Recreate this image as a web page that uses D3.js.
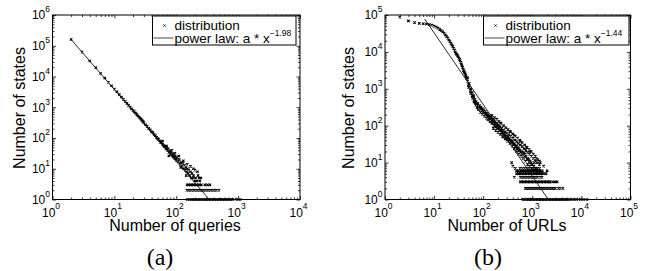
<!DOCTYPE html>
<html>
<head>
<meta charset="utf-8">
<style>
  body { margin: 0; background: #fff; }
  svg { display: block; }
  .tick-label, .axis-title, .legend text {
    font-family: "Liberation Sans", Arial, Helvetica, sans-serif;
    fill: #000;
  }
  .caption { font-family: "Liberation Serif", "Times New Roman", serif; fill: #000; }
  .axis path.domain { display: none; }
  .axis line { stroke: #000; stroke-width: 0.8; }
</style>
<script src="https://cdn.jsdelivr.net/npm/d3@7"></script>
</head>
<body>
<script>
// ---- (a) number of states vs number of queries ----
var queryDist = [
  [2,160000],[3,62000],[4,32000],[5,19500],[6,12500],[7,8900],[8,6500],[9,5000],[10,3900],
  [11,3200],[12,2600],[13,2150],[14,1800],[15,1550],[16,1330],[17,1150],[18,1010],[19,890],
  [20,790],[21,720],[22,650],[23,590],[24,530],[25,480],[26,440],[27,410],[28,375],[29,345],
  [30,315],[32,270],[34,240],[36,205],[38,185],[40,160],[42,150],[44,130],[46,120],[48,105],
  [50,96],[52,90],[54,80],[56,72],[58,70],[60,62],[62,58],[64,52],[66,55],[68,46],[70,44],
  [72,40],[74,45],[76,34],[78,38],[80,32],[82,36],[84,28],[86,31],[88,26],[90,24],[92,30],
  [94,22],[96,26],[98,21],[100,19],[104,23],[108,17],[112,20],[116,14],[120,16],[124,12],
  [128,15],[132,10],[136,13],[140,9],[144,11],[148,8],[152,10],[156,7],[160,9],[165,6],
  [170,8],[175,5],[180,7],[185,5],[190,6],[200,4],[205,5],[215,4],[225,6],[240,4],[250,5],
  [76,26],[85,40],[110,26],[130,18],[150,14],[170,12],[190,10],[220,8],[60,80],[70,55],
  [95,32],[118,11],[145,6],[200,9],[235,5]
];
var queryRow3X = [150,159,169,179,190,201,213,226,240,254,290,320,350];
var queryRow2X = [148,157,166,176,187,198,210,223,236,250,265,281,298,316,335,355,376,399,423,450,490];
var queryRow1X = [150,165,175,186,197,209,221,234,248,263,279,296,313,332,352,373,396,419,445,471,
                  500,530,562,596,631,669,710,760,820,960,1080];
var queryFit = [[2,160000],[342,1]];
var queryExponent = "\u22121.98";

// ---- (b) number of states vs number of URLs ----
var urlDist = [
  [2,87000],[3,69000],[4,62000],[5,59000],[6,58000],[7,57000],[8,55000],[9,53000],[10,50000],
  [11,47000],[12,44000],[13,41000],[14,38000],[15,35000],[16,32000],[17,29000],[18,26000],
  [19,23500],[20,21000],[21,19000],[22,17000],[23,15500],[24,14000],[25,12500],[26,11200],
  [27,10000],[28,9000],[29,8500],[30,8000],[31,7400],[32,6800],[33,6300],[34,5800],[35,5200],
  [36,4700],[37,4200],[38,3800],[39,3400],[40,3100],[41,2900],[42,2700],[43,2500],[44,2300],
  [45,2100],[46,1900],[48,1600],[50,1300],[52,1100],[55,900],[58,750],[60,650],[63,560],
  [66,480],[69,430],[72,390],[76,360],[80,330],[85,300],[90,280],[95,260],[100,245],[106,225],
  [112,210],[119,190],[126,178],[133,165],[140,155],[150,138],[160,126],[170,115],[180,107],
  [190,98],[200,91],[212,84],[225,78],[237,72],[250,66],[265,61],[280,57],[300,52],[320,48],
  [340,44],[360,41],[380,38],[400,35],[425,32],[450,30],[475,28],[500,26],[530,24],[560,22],
  [600,20],[630,19],[670,18],[700,17],[750,15],[800,13],[850,12],[900,11],[950,10],[1000,9],
  [1080,8],[1150,7],[1300,6]
];
var urlSpread = [
  [48,2000],[52,1400],[56,1000],[60,800],[64,640],[68,520],[72,450],[78,400],[84,350],[90,320],
  [96,290],[102,270],[110,245],[118,220],[125,200],[135,185],[145,165],[155,150],[165,138],
  [175,128],[190,115],[205,105],[220,95],[240,85],[260,76],[280,68],[300,63],[330,57],[360,52],
  [400,46],[440,41],[480,37],[520,33],[570,30],[620,27],[680,24],[740,21],[800,19],[870,17],
  [950,15],[1050,13],[1150,11],[1250,10],[1400,9],
  [50,1100],[55,760],[60,560],[65,440],[70,360],[75,310],[80,270],[88,230],[95,205],[105,180],
  [115,160],[125,145],[138,128],[150,115],[165,102],[180,92],[195,83],[215,74],[235,66],[255,58],
  [280,51],[310,45],[340,40],[375,35],[410,31],[450,27],[490,24],[540,21],[590,18],[650,16],
  [720,14],[790,12],[870,10],[950,9],[1050,8],[1200,7],[1350,6],[1500,5],
  [150,190],[170,165],[190,150],[210,130],[230,118],[260,100],[290,88],[320,78],[360,68],[400,60],
  [450,52],[500,46],[560,40],[620,35],[700,30],[780,26],[860,23],[950,20],[1050,17],[1150,15],
  [1300,12],[1450,10],
  [160,85],[180,75],[200,66],[225,58],[250,50],[280,44],[310,38],[350,33],[390,28],[430,24],
  [480,20],[530,17],[590,15],[650,13],[720,11],[800,9],[880,8],[980,7],[1100,6],[1250,5],
  [350,70],[420,55],[560,38],[760,26],[900,20],[1100,10],[1200,13],[1400,11],[1700,8],[2000,6],
  [380,10],[400,8],[430,4],[450,7],[480,6],[520,5]
];
var urlRow7X = [560,630,700,780,860,950,1050,1150,1280,1400];
var urlRow6X = [520,580,640,700,770,840,920,1000,1100,1200,1320,1450,1600];
var urlRow5X = [480,520,560,600,650,700,750,810,870,940,1010,1090,1170,1260,1360,1460,1580,1700,1900];
var urlRow4X = [570,610,653,698,747,800,856,915,980,1048,1120,1200,1285,1450,1580];
var urlRow3X = [570,610,653,698,747,800,856,915,980,1048,1120,1200,1285,1375,1470,1575,1685,
                1800,1930,2065,2210,2300,2600,2900,3200];
var urlRow2X = [720,770,824,882,944,1010,1080,1155,1236,1322,1415,1514,1620,1733,1855,1985,2124,
                2272,2431,2600,2780,2950,3400,3700,4200];
var urlRow1X = [650,700,780,835,893,955,1022,1094,1170,1252,1340,1434,1534,1641,1756,1879,2011,
                2151,2302,2463,2635,2820,3017,3228,3454,3696,3955,4232,4528,4845,5100,5600,6200,
                7000,8000,9500,11000,13000];
var urlFit = [[6.4,78000],[2120,1]];
var urlExponent = "\u22121.44";

function rowPoints(xs, count) {
  return xs.map(function(v) { return [v, count]; });
}

var svg = d3.select("body").append("svg")
    .attr("width", 652)
    .attr("height", 271);

// small matlab-like "x" marker
var cross = "M-1.2,-1.2L1.2,1.2M-1.2,1.2L1.2,-1.2";

function drawPanel(p) {
  var x = d3.scaleLog().domain([1, p.xMax]).range([p.left, p.right]);
  var y = d3.scaleLog().domain([1, p.yMax]).range([p.bottom, p.top]);
  var g = svg.append("g");

  // decade ticks and the 2..9 minor ticks in between
  function majors(max) {
    return d3.range(0, Math.round(Math.log10(max)) + 1).map(function(e) { return Math.pow(10, e); });
  }
  function minors(max) {
    var out = [];
    majors(max).slice(0, -1).forEach(function(d) {
      for (var k = 2; k < 10; k++) out.push(d * k);
    });
    return out;
  }

  [[majors, 3.5], [minors, 2]].forEach(function(t) {
    var xv = t[0](p.xMax), yv = t[0](p.yMax), len = t[1];
    g.append("g").attr("class", "axis").attr("transform", "translate(0," + p.bottom + ")")
      .call(d3.axisBottom(x).tickValues(xv).tickSize(-len).tickFormat(""));
    g.append("g").attr("class", "axis").attr("transform", "translate(0," + p.top + ")")
      .call(d3.axisTop(x).tickValues(xv).tickSize(-len).tickFormat(""));
    g.append("g").attr("class", "axis").attr("transform", "translate(" + p.left + ",0)")
      .call(d3.axisLeft(y).tickValues(yv).tickSize(-len).tickFormat(""));
    g.append("g").attr("class", "axis").attr("transform", "translate(" + p.right + ",0)")
      .call(d3.axisRight(y).tickValues(yv).tickSize(-len).tickFormat(""));
  });

  g.append("rect")
    .attr("x", p.left).attr("y", p.top)
    .attr("width", p.right - p.left).attr("height", p.bottom - p.top)
    .attr("fill", "none").attr("stroke", "#000").attr("stroke-width", 1);

  // tick labels 10^k
  majors(p.xMax).forEach(function(v) {
    var t = g.append("text").attr("class", "tick-label")
      .attr("x", x(v) - 1.5).attr("y", p.bottom + 17)
      .attr("text-anchor", "middle").style("font-size", "12px");
    t.append("tspan").text("10");
    t.append("tspan").attr("dy", -7.5).style("font-size", "8.5px").text(Math.round(Math.log10(v)));
  });
  majors(p.yMax).forEach(function(v) {
    var t = g.append("text").attr("class", "tick-label")
      .attr("x", p.left - 2.5).attr("y", y(v) + 4.3)
      .attr("text-anchor", "end").style("font-size", "12px");
    t.append("tspan").text("10");
    t.append("tspan").attr("dy", -7).style("font-size", "8.5px").text(Math.round(Math.log10(v)));
  });

  // data points
  g.append("g").selectAll("path")
    .data(p.points)
    .join("path")
      .attr("d", cross)
      .attr("transform", function(d) { return "translate(" + x(d[0]) + "," + y(d[1]) + ")"; })
      .attr("fill", "none")
      .attr("stroke", "#000")
      .attr("stroke-width", 1.1);

  // fitted power law
  var line = d3.line().x(function(d) { return x(d[0]); }).y(function(d) { return y(d[1]); });
  g.append("path").datum(p.fit)
    .attr("d", line).attr("fill", "none").attr("stroke", "#111").attr("stroke-width", 0.9);

  // axis titles
  g.append("text").attr("class", "axis-title")
    .attr("x", p.xTitleX).attr("y", 231).attr("text-anchor", "middle")
    .style("font-size", "16px").text(p.xTitle);
  g.append("text").attr("class", "axis-title")
    .attr("transform", "translate(" + p.yTitleX + ",108)rotate(-90)")
    .attr("text-anchor", "middle").style("font-size", "16px").text("Number of states");
  g.append("text").attr("class", "caption")
    .attr("x", p.captionX).attr("y", 265).attr("text-anchor", "middle")
    .style("font-size", "24px").text(p.caption);

  // legend
  var lg = g.append("g").attr("class", "legend");
  lg.append("rect")
    .attr("x", p.legLeft).attr("y", p.top + 1)
    .attr("width", p.legRight - p.legLeft).attr("height", 29)
    .attr("fill", "#fff").attr("stroke", "#000").attr("stroke-width", 1);
  lg.append("path").attr("d", "M-1,-1L1,1M-1,1L1,-1")
    .attr("transform", "translate(" + (p.legLeft + 12) + "," + (p.top + 10.5) + ")")
    .attr("fill", "none").attr("stroke", "#000").attr("stroke-width", 1);
  lg.append("line")
    .attr("x1", p.legLeft + 1).attr("x2", p.legLeft + 21)
    .attr("y1", p.top + 23).attr("y2", p.top + 23)
    .attr("stroke", "#666").attr("stroke-width", 1.2);
  lg.append("text").attr("x", p.legLeft + 22).attr("y", p.top + 14.5)
    .style("font-size", "13.5px").text("distribution");
  var pl = lg.append("text").attr("x", p.legLeft + 22).attr("y", p.top + 27.5)
    .style("font-size", "13.5px");
  pl.append("tspan").text("power law: a * x");
  pl.append("tspan").attr("dy", -6.5).style("font-size", "8.5px").text(p.exponent);
}

drawPanel({
  left: 52.5, right: 300, top: 15, bottom: 199.5,
  xMax: 1e4, yMax: 1e6,
  points: queryDist.concat(rowPoints(queryRow3X, 3), rowPoints(queryRow2X, 2), rowPoints(queryRow1X, 1)),
  fit: queryFit, exponent: queryExponent,
  xTitle: "Number of queries", xTitleX: 175, yTitleX: 25,
  caption: "(a)", captionX: 160,
  legLeft: 152.5, legRight: 296
});

drawPanel({
  left: 385, right: 630.5, top: 15, bottom: 199.5,
  xMax: 1e5, yMax: 1e5,
  points: urlDist.concat(urlSpread, rowPoints(urlRow7X, 7), rowPoints(urlRow6X, 6), rowPoints(urlRow5X, 5),
    rowPoints(urlRow4X, 4), rowPoints(urlRow3X, 3), rowPoints(urlRow2X, 2), rowPoints(urlRow1X, 1)),
  fit: urlFit, exponent: urlExponent,
  xTitle: "Number of URLs", xTitleX: 507, yTitleX: 354,
  caption: "(b)", captionX: 488,
  legLeft: 483.5, legRight: 629
});
</script>
</body>
</html>
